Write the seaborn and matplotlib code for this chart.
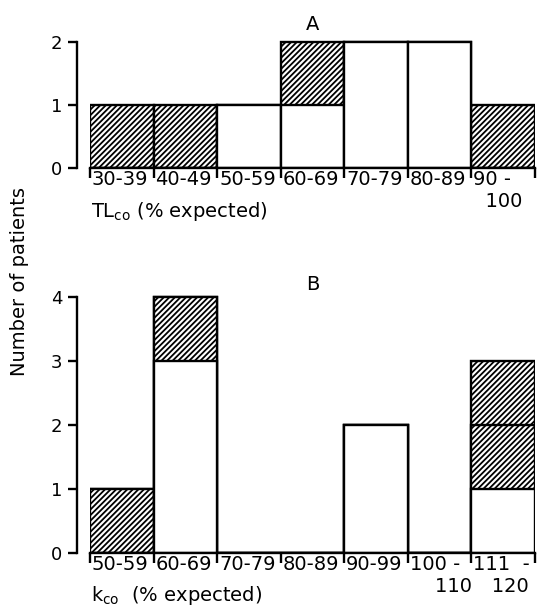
import numpy as np
import seaborn as sns
import matplotlib
matplotlib.use('Agg')
import matplotlib.pyplot as plt

# panel A: TLco
bins_a = ['30-39', '40-49', '50-59', '60-69', '70-79', '80-89', '90-100']
labels_a = ['30-39', '40-49', '50-59', '60-69', '70-79', '80-89', '90 -\n  100']
white_a = [0, 0, 1, 1, 2, 2, 0]
hatched_a = [1, 1, 0, 1, 0, 0, 1]

# panel B: kco
bins_b = ['50-59', '60-69', '70-79', '80-89', '90-99', '100-110', '111-120']
labels_b = ['50-59', '60-69', '70-79', '80-89', '90-99', '100 -\n    110', '111  -\n   120']
white_b = [0, 3, 0, 0, 2, 0, 1]
hatched1_b = [1, 1, 0, 0, 0, 0, 1]
hatched2_b = [0, 0, 0, 0, 0, 0, 1]

sns.set_style('white')
plt.rcParams['font.family'] = ['DejaVu Sans']
plt.rcParams['hatch.linewidth'] = 1.3
plt.rcParams['mathtext.default'] = 'regular'
plt.rcParams['text.color'] = 'black'
plt.rcParams['xtick.color'] = 'black'
plt.rcParams['ytick.color'] = 'black'

W, H = 537, 614
fig = plt.figure(figsize=(W / 100, H / 100), dpi=100)


def px_axes(left, right, y0, top):
    return fig.add_axes([left / W, 1 - y0 / H, (right - left) / W, (y0 - top) / H])


def draw_stack(ax, bins, layers):
    # layers bottom -> top, each (values, hatch); draw cumulative, tallest first
    cum = np.cumsum([np.array(v) for v, h in layers], axis=0)
    for i in range(len(layers) - 1, -1, -1):
        hatch = layers[i][1]
        sns.barplot(x=bins, y=cum[i], order=bins, color='white', edgecolor='black',
                    linewidth=1.7, hatch=hatch, width=1, errorbar=None, ax=ax)


def style_axes(ax, labels, ymax, top):
    n = len(labels)
    ax.set_xlim(-0.5, n - 0.5)
    ax.set_ylim(0, top)
    ax.set_xlabel('')
    ax.set_ylabel('')
    sns.despine(ax=ax)
    ax.spines['left'].set_position(('outward', 9.5))
    ax.spines['left'].set_bounds(0, ymax)
    for s in ['left', 'bottom']:
        ax.spines[s].set_linewidth(1.7)
        ax.spines[s].set_color('black')
    edges = np.arange(n + 1) - 0.5
    ax.set_xticks(edges, [''] * (n + 1))
    ax.set_xticks(edges[:-1] + 0.03, labels, minor=True)
    ax.tick_params(axis='x', which='major', direction='out', length=7, width=1.7,
                   color='black', bottom=True)
    ax.tick_params(axis='x', which='minor', length=0, pad=1.5, labelsize=14,
                   labelcolor='black')
    for lbl in ax.get_xticklabels(minor=True):
        lbl.set_ha('left')
    ax.set_yticks(range(ymax + 1))
    ax.tick_params(axis='y', direction='out', length=6.5, width=1.7, color='black',
                   left=True, labelsize=13, pad=4, labelcolor='black')
    ax.patch.set_alpha(0)


# panel A
ax1 = px_axes(90, 535, 168, 168 - 2.4 * 63)
draw_stack(ax1, bins_a, [(white_a, ''), (hatched_a, '//////')])
style_axes(ax1, labels_a, 2, 2.4)
ax1.text(3, 2.27, 'A', ha='center', va='center', fontsize=14)

# panel B
ax2 = px_axes(90, 535, 553, 553 - 4.6 * 64)
draw_stack(ax2, bins_b, [(white_b, ''), (hatched1_b, '//////'), (hatched2_b, '//////')])
style_axes(ax2, labels_b, 4, 4.6)
ax2.text(3, 4.19, 'B', ha='center', va='center', fontsize=14)

fig.text(91 / W, 1 - 217 / H, 'TL$_{co}$ (% expected)', ha='left', va='baseline', fontsize=14)
fig.text(91 / W, 1 - 601 / H, 'k$_{co}$  (% expected)', ha='left', va='baseline', fontsize=14)
fig.text(20 / W, 1 - 281 / H, 'Number of patients', rotation=90, ha='center', va='center',
         fontsize=14)

fig.savefig('out.png', dpi=100)
